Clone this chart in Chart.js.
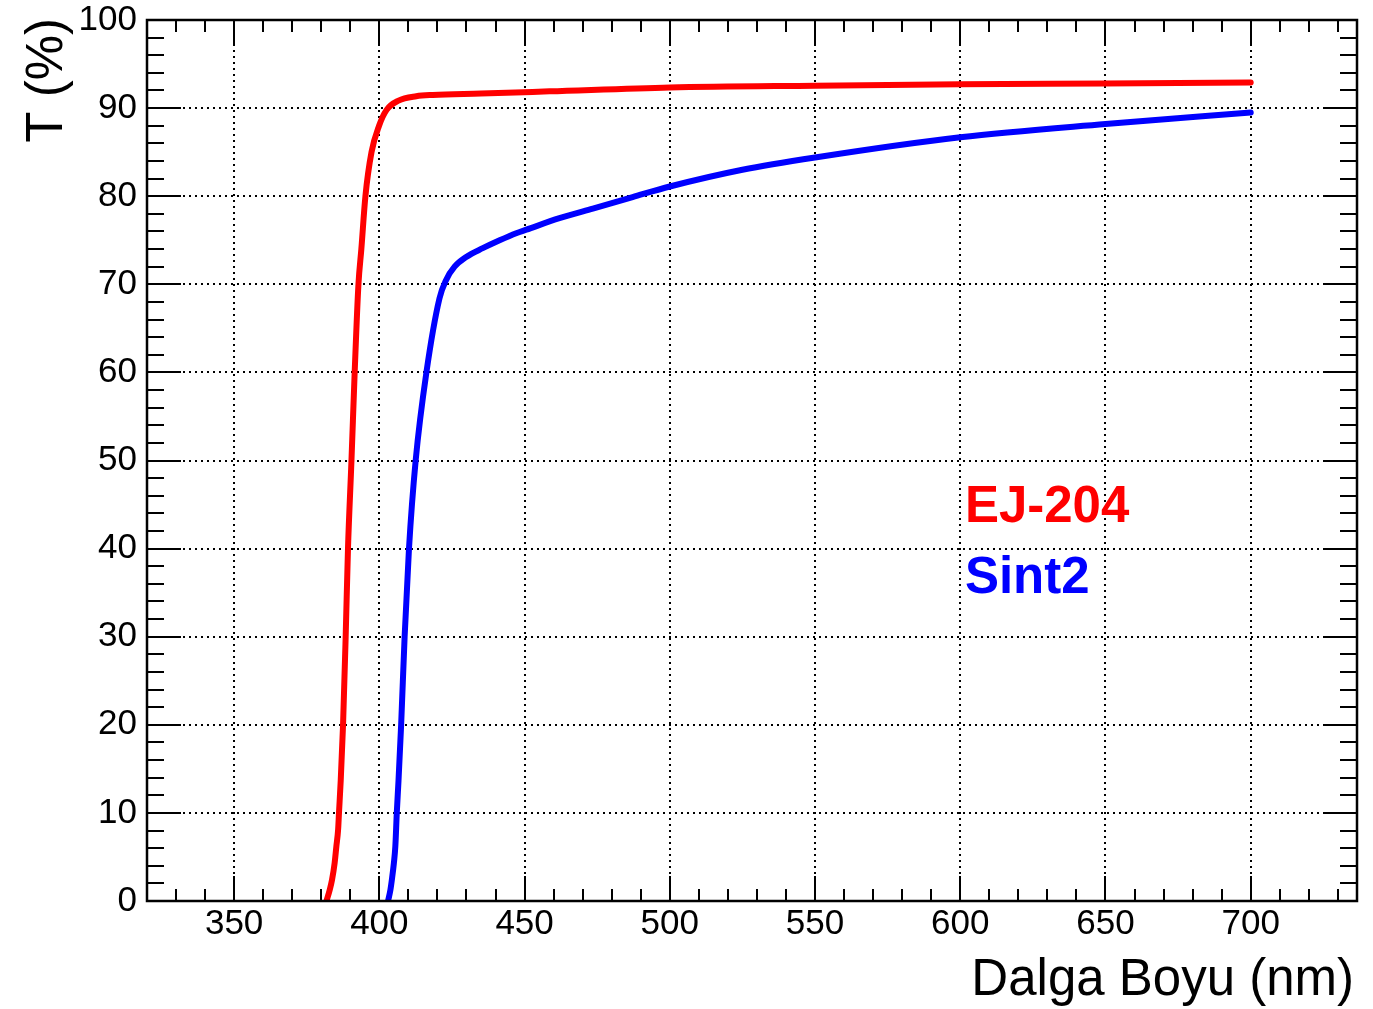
<!DOCTYPE html>
<html>
<head>
<meta charset="utf-8">
<title>T (%) - Dalga Boyu</title>
<script src="https://cdn.jsdelivr.net/npm/chart.js@4.4.0/dist/chart.umd.min.js"></script>
<style>
  html, body { margin: 0; padding: 0; background: #fff; }
  canvas { display: block; }
</style>
</head>
<body>
<canvas id="transChart" width="1373" height="1009"></canvas>
<script>
// Data
const seriesNames = ["EJ-204", "Sint2"];
const seriesColors = ["#ff0000", "#0000ff"];

const wavelengthEJ = [381.8, 382.9, 383.7, 384.6, 385.2, 385.8, 386.1, 386.7, 387.5, 388.4, 389.2, 390.4, 391.5, 392.8, 393.8, 395.2, 397.3, 399.9, 402.5, 406.6, 412.7, 418.4, 435, 458.6, 500, 550, 600, 650, 700];
const transEJ      = [0,     1.25,  2.4,   4.3,   6.2,   8.1,   10,    13.7,  20,    30,    40,    50,    60,    70,    74,    80,    85,    88,    89.8,  90.85, 91.35, 91.5,  91.65, 91.9, 92.35, 92.55, 92.7, 92.8, 92.9];

const wavelengthSint = [403.0, 403.8, 404.3, 405.0, 405.5, 406.0, 406.6, 407.5, 408.7, 410.2, 412.5, 416.2, 420.7, 423.0, 425.9, 429.9, 435.6, 441.4, 447.1, 450.6, 462.0, 473.5, 487.2, 500, 525, 550, 600, 650, 700];
const transSint      = [0,     1.25,  2.4,   4.3,   6.2,   10,    13.7,  20,    30,    40,    50,    60,    68.4,  70.5,  72.0,  73.1,  74.1,  75.0,  75.8,  76.2,  77.5,  78.6,  79.9, 81.1, 83.0, 84.4, 86.7, 88.2, 89.5];

const xTickValues = [350, 400, 450, 500, 550, 600, 650, 700];
const yTickValues = [0, 10, 20, 30, 40, 50, 60, 70, 80, 90, 100];
const xMinorStep = 10;
const yMinorStep = 2;
const xRange = [320, 736.6];
const yRange = [0, 100];

const xTitle = "Dalga Boyu (nm)";
const yTitle = "T (%)";

const FONT = "'Liberation Sans', Arial, Helvetica, sans-serif";

function toPoints(xs, ys) {
  return xs.map(function (v, i) {
    return { x: v, y: ys[i] };
  });
}

// Frame, inward ticks (ROOT style), axis titles and text legend
const frameTicks = {
  id: "frameTicks",
  afterDraw(chart) {
    const ctx = chart.ctx;
    const a = chart.chartArea;
    const x = chart.scales.x;
    const y = chart.scales.y;
    ctx.save();
    ctx.strokeStyle = "#000";
    ctx.lineWidth = 2;
    ctx.beginPath();
    // x ticks, bottom and top
    const xStart = Math.ceil(xRange[0] / xMinorStep) * xMinorStep;
    for (let v = xStart; v <= xRange[1]; v += xMinorStep) {
      const px = Math.round(x.getPixelForValue(v));
      const len = v % 50 === 0 ? 25 : 12;
      ctx.moveTo(px, a.bottom);
      ctx.lineTo(px, a.bottom - len);
      ctx.moveTo(px, a.top);
      ctx.lineTo(px, a.top + len);
    }
    // y ticks, left and right
    for (let v = yRange[0]; v <= yRange[1]; v += yMinorStep) {
      const py = Math.round(y.getPixelForValue(v));
      const len = v % 10 === 0 ? 34 : 17;
      ctx.moveTo(a.left, py);
      ctx.lineTo(a.left + len, py);
      ctx.moveTo(a.right, py);
      ctx.lineTo(a.right - len, py);
    }
    ctx.stroke();
    // frame
    ctx.lineWidth = 2.5;
    ctx.strokeRect(a.left, a.top, a.right - a.left, a.bottom - a.top);

    // axis titles
    ctx.fillStyle = "#000";
    ctx.font = "51px " + FONT;
    ctx.textAlign = "right";
    ctx.textBaseline = "alphabetic";
    ctx.fillText(xTitle, 1354, 995);
    ctx.save();
    ctx.translate(62, 18);
    ctx.rotate(-Math.PI / 2);
    ctx.fillText(yTitle, 0, 0);
    ctx.restore();

    // legend text
    ctx.font = "bold 51px " + FONT;
    ctx.textAlign = "left";
    chart.data.datasets.forEach(function (ds, i) {
      ctx.fillStyle = ds.borderColor;
      ctx.fillText(ds.label, x.getPixelForValue(601.6), y.getPixelForValue(43.0 - i * 8));
    });
    ctx.restore();
  },
};

function noPadding(scale) {
  scale.paddingTop = 0;
  scale.paddingBottom = 0;
  scale.paddingLeft = 0;
  scale.paddingRight = 0;
}

document.addEventListener("DOMContentLoaded", function () {
  const gridStyle = {
    color: "#000",
    lineWidth: 2,
    drawTicks: false,
  };

  new Chart(document.getElementById("transChart"), {
    type: "line",
    data: {
      datasets: [
        {
          label: seriesNames[0],
          data: toPoints(wavelengthEJ, transEJ),
          borderColor: seriesColors[0],
          borderWidth: 6,
          pointRadius: 0,
          cubicInterpolationMode: "monotone",
          borderCapStyle: "round",
          fill: false,
        },
        {
          label: seriesNames[1],
          data: toPoints(wavelengthSint, transSint),
          borderColor: seriesColors[1],
          borderWidth: 6,
          pointRadius: 0,
          cubicInterpolationMode: "monotone",
          borderCapStyle: "round",
          fill: false,
        },
      ],
    },
    options: {
      responsive: false,
      animation: false,
      devicePixelRatio: 1,
      layout: {
        padding: { left: 0, right: 16, top: 20, bottom: 0 },
      },
      plugins: {
        legend: { display: false },
        tooltip: { enabled: false },
      },
      scales: {
        x: {
          type: "linear",
          min: xRange[0],
          max: xRange[1],
          afterBuildTicks: function (scale) {
            scale.ticks = xTickValues.map(function (v) {
              return { value: v };
            });
          },
          afterFit: function (scale) {
            scale.height = 108;
            noPadding(scale);
          },
          grid: gridStyle,
          border: { display: false, dash: [2, 4] },
          ticks: {
            color: "#000",
            padding: 6,
            maxRotation: 0,
            font: { family: FONT, size: 35, lineHeight: 1 },
          },
        },
        y: {
          type: "linear",
          min: yRange[0],
          max: yRange[1],
          afterBuildTicks: function (scale) {
            scale.ticks = yTickValues.map(function (v) {
              return { value: v };
            });
          },
          afterFit: function (scale) {
            scale.width = 147;
            noPadding(scale);
          },
          grid: gridStyle,
          border: { display: false, dash: [2, 4] },
          ticks: {
            color: "#000",
            padding: 10,
            font: { family: FONT, size: 35, lineHeight: 1 },
          },
        },
      },
    },
    plugins: [frameTicks],
  });
});
</script>
</body>
</html>
